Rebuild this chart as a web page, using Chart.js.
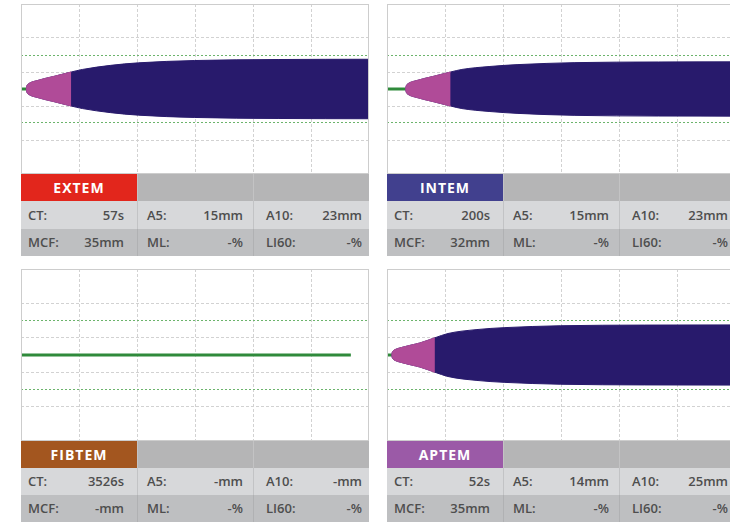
<!DOCTYPE html>
<html>
<head>
<meta charset="utf-8">
<script src="https://cdn.jsdelivr.net/npm/chart.js@4.4.1/dist/chart.umd.min.js"></script>
<style>
  html, body { margin: 0; padding: 0; background: #fff; }
  body { width: 730px; height: 522px; overflow: hidden; position: relative; font-family: "Open Sans", "Liberation Sans", sans-serif; }
  .plot { position: absolute; display: block; }
  .row { position: absolute; height: 27px; overflow: hidden; }
  .row .sep { position: absolute; top: 0; bottom: 0; width: 1px; }
  .row .lbl, .row .val { position: absolute; top: 0; line-height: 27px; font-size: 13px; font-weight: 600; color: #4e4e4e; white-space: nowrap; }
  .row .val { text-align: right; }
  .name { position: absolute; top: 0; left: 0; width: 116px; height: 27px; line-height: 27px; text-align: center; color: #fff; font-size: 14px; font-weight: 700; letter-spacing: 1px; }
</style>
</head>
<body>
<script>
// ---- ROTEM result data -------------------------------------------------
const testNames  = ['EXTEM', 'INTEM', 'FIBTEM', 'APTEM'];
const ctSec      = [57, 200, 3526, 52];      // clotting time, s
const a5Mm       = [15, 15, null, 14];       // amplitude 5 min after CT
const a10Mm      = [23, 23, null, 25];       // amplitude 10 min after CT
const mcfMm      = [35, 32, null, 35];       // maximum clot firmness
const mlPct      = [null, null, null, null]; // maximum lysis
const li60Pct    = [null, null, null, null]; // lysis index 60 min
const cftSec     = [480, 480, null, 460];    // time after CT until 20 mm (clot formation)

// Amplitude samples (mm) of each temogram, at seconds after CT
const extemT = [0, 3, 10, 30, 60, 120, 200, 300, 480, 600, 900, 1200, 1800, 2700, 3700];
const extemA = [0, 2.6, 4.6, 6.6, 8.2, 10, 12.4, 15, 20, 23, 27.8, 30.8, 33.5, 34.7, 35];
const intemT = [0, 3, 10, 30, 60, 120, 200, 300, 480, 600, 900, 1200, 1800, 2700, 3700];
const intemA = [0, 2.6, 4.6, 6.6, 8.2, 10, 12.4, 15, 20, 23, 26.5, 28.7, 31, 31.8, 32];
const aptemT = [0, 3, 10, 30, 60, 120, 200, 300, 460, 600, 900, 1200, 1800, 2700, 3700];
const aptemA = [0, 2.4, 4.2, 6, 7.4, 9.2, 11.4, 14, 20, 25, 29.5, 31.8, 34, 34.8, 35];
const traceT = [extemT, intemT, null, aptemT];
const traceA = [extemA, intemA, null, aptemA];

// Axis ranges and grid positions
const TIME_MAX   = 3720;
const xGridTimes = [0, 620, 1240, 1860, 2480, 3100, 3720];
const AMP_MAX    = 50;
const yGridAmps  = [-50, -30, -20, -10, 10, 20, 30, 50];
const refAmps    = [-20, 20];

// ---- styling -----------------------------------------------------------
const PINK = '#b04b98';
const NAVY = '#281a6c';
const GREEN = '#2f8a3b';
const nameColors = ['#e2261c', '#41408e', '#a3561f', '#9b5aa7'];
const panels = [
  { left: 21,  top: 4,   plotH: 170, rowH: [27, 28, 27] },
  { left: 387, top: 4,   plotH: 170, rowH: [27, 28, 27] },
  { left: 21,  top: 269, plotH: 172, rowH: [27, 27, 27] },
  { left: 387, top: 269, plotH: 172, rowH: [27, 27, 27] }
];
const PANEL_W = 348;

// light frame around the plotting area
const framePlugin = {
  id: 'frame',
  afterDraw(chart) {
    const { ctx, chartArea: a } = chart;
    ctx.save();
    ctx.strokeStyle = '#cdcdcd';
    ctx.lineWidth = 1;
    ctx.strokeRect(a.left + 0.5, a.top + 0.5, a.right - a.left - 1, a.bottom - a.top - 1);
    ctx.restore();
  }
};

function band(data, color, fill) {
  return {
    data, fill, backgroundColor: color, borderColor: color, borderWidth: 1,
    pointRadius: 0, cubicInterpolationMode: 'monotone'
  };
}

// Datasets are painted last-to-first, so the clot-formation (pink) band
// sits on top of the full-length firmness (navy) band.
function buildDatasets(i) {
  const ct = ctSec[i];
  const ds = [];
  const tT = traceT[i], tA = traceA[i];
  if (tT) {
    const cut = cftSec[i];
    const all = tT.map((t, k) => ({ t, x: ct + t, amp: tA[k] }));
    const pink = all.filter(p => p.t <= cut);
    const half = (pts, s) => pts.map(p => ({ x: p.x, y: s * p.amp / 2 }));
    ds.push(band(half(pink, 1), PINK, '+1'));
    ds.push(band(half(pink, -1), PINK, false));
    ds.push(band(half(all, 1), NAVY, '+1'));
    ds.push(band(half(all, -1), NAVY, false));
  }
  // flat line until the clot starts to form
  ds.push({
    data: [{ x: 0, y: 0 }, { x: ct, y: 0 }],
    borderColor: GREEN, borderWidth: 3, pointRadius: 0, fill: false
  });
  return ds;
}

function fmt(v, unit) { return (v === null ? '-' : v) + unit; }

function addRow(parent, left, top, h, bg, sepColor) {
  const r = document.createElement('div');
  r.className = 'row';
  r.style.cssText = `left:${left}px;top:${top}px;width:${PANEL_W}px;height:${h}px;background:${bg}`;
  [116, 232].forEach(x => {
    const s = document.createElement('div');
    s.className = 'sep';
    s.style.left = x + 'px';
    s.style.background = sepColor;
    r.appendChild(s);
  });
  parent.appendChild(r);
  return r;
}

function addCells(row, h, cells) {
  cells.forEach(([label, value], c) => {
    const l = document.createElement('span');
    l.className = 'lbl';
    l.textContent = label;
    l.style.left = (7 + c * 119) + 'px';
    l.style.lineHeight = h + 'px';
    row.appendChild(l);
    const v = document.createElement('span');
    v.className = 'val';
    v.textContent = value;
    v.style.right = (PANEL_W - 103 - c * 119) + 'px';
    v.style.lineHeight = h + 'px';
    row.appendChild(v);
  });
}

panels.forEach((p, i) => {
  const cv = document.createElement('canvas');
  cv.className = 'plot';
  cv.width = PANEL_W;
  cv.height = p.plotH;
  cv.style.left = p.left + 'px';
  cv.style.top = p.top + 'px';
  cv.style.width = PANEL_W + 'px';
  cv.style.height = p.plotH + 'px';
  document.body.appendChild(cv);

  new Chart(cv, {
    type: 'line',
    data: { datasets: buildDatasets(i) },
    options: {
      responsive: false,
      devicePixelRatio: 1,
      animation: false,
      events: [],
      layout: { padding: 0 },
      plugins: { legend: { display: false }, tooltip: { enabled: false } },
      scales: {
        x: {
          type: 'linear', min: 0, max: TIME_MAX,
          afterBuildTicks: s => { s.ticks = xGridTimes.map(v => ({ value: v })); },
          ticks: { display: false },
          grid: {
            drawTicks: false, lineWidth: 1,
            color: c => (c.tick && (c.tick.value === 0 || c.tick.value === TIME_MAX)) ? 'rgba(0,0,0,0)' : '#d2d2d2'
          },
          border: { display: false, dash: [3, 2] }
        },
        y: {
          type: 'linear', min: -AMP_MAX, max: AMP_MAX,
          afterBuildTicks: s => { s.ticks = yGridAmps.map(v => ({ value: v })); },
          ticks: { display: false },
          grid: {
            drawTicks: false, lineWidth: 1,
            color: c => {
              const v = c.tick ? c.tick.value : 0;
              if (Math.abs(v) === AMP_MAX) return 'rgba(0,0,0,0)';
              return refAmps.includes(v) ? '#6cb46c' : '#d2d2d2';
            }
          },
          border: {
            display: false,
            dash: c => (c.tick && refAmps.includes(c.tick.value)) ? [2, 2] : [3, 2]
          }
        }
      }
    },
    plugins: [framePlugin]
  });

  // result table under the temogram
  let y = p.top + p.plotH;
  const hdr = addRow(document.body, p.left, y, p.rowH[0], '#b5b5b6', '#c3c3c4');
  const nm = document.createElement('div');
  nm.className = 'name';
  nm.textContent = testNames[i];
  nm.style.background = nameColors[i];
  nm.style.height = nm.style.lineHeight = p.rowH[0] + 'px';
  hdr.appendChild(nm);
  y += p.rowH[0];
  const r1 = addRow(document.body, p.left, y, p.rowH[1], '#d7d8da', '#c2c3c5');
  addCells(r1, p.rowH[1], [['CT:', ctSec[i] + 's'], ['A5:', fmt(a5Mm[i], 'mm')], ['A10:', fmt(a10Mm[i], 'mm')]]);
  y += p.rowH[1];
  const r2 = addRow(document.body, p.left, y, p.rowH[2], '#bebfc1', '#b0b1b3');
  addCells(r2, p.rowH[2], [['MCF:', fmt(mcfMm[i], 'mm')], ['ML:', fmt(mlPct[i], '%')], ['LI60:', fmt(li60Pct[i], '%')]]);
});
</script>
</body>
</html>
